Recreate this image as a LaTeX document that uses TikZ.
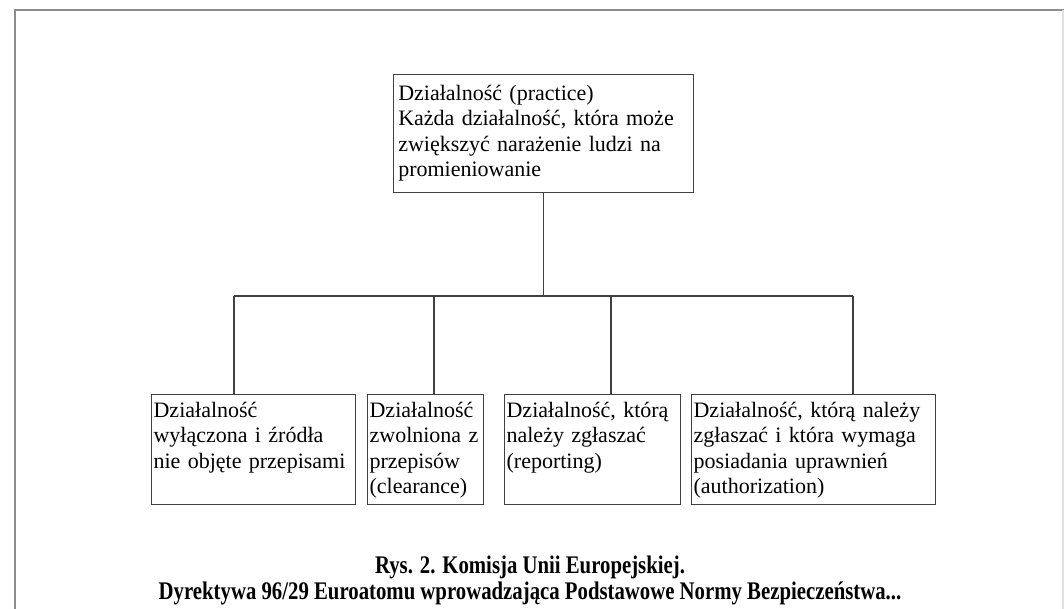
\documentclass[tikz,border=0pt]{standalone}
\usepackage{fontspec}
\setmainfont{Liberation Serif}
\newfontfamily\capfont[FakeStretch=0.82]{Liberation Serif}
\usetikzlibrary{calc}
\hyphenpenalty=10000

\begin{document}
\begin{tikzpicture}[
    x=0.75pt, y=-0.75pt,
    box/.style={draw=black!75, line width=0.9pt, anchor=north west, align=left, inner ysep=0pt, inner xsep=1.5pt, font=\fontsize{16.5}{19}\selectfont},
    leaf/.style={box, text width=#1, text height=17.25pt, text depth=65pt},
    link/.style={draw=black!75, line width=0.9pt},
    frame/.style={draw=black!45, line width=1pt}
]
    \useasboundingbox (0,0) rectangle (1064,609);

    % Page frame
    \draw[frame] (15,609) -- (15,10) -- (1064,10);
    \draw[frame, draw=black!12] (1063,10) -- (1063,609);

    % Practice
    \node[box, text width=218pt, inner xsep=3.5pt, text height=19.5pt, text depth=69pt] (prac) at (393,74)
        {Działalność (practice)\\Każda działalność, która może\\zwiększyć narażenie ludzi na\\promieniowanie};

    % Categories
    \node[leaf=150pt] (excl) at (151,394) {Działalność\\wyłączona i źródła\\nie objęte przepisami};
    \node[leaf=84pt] (clear) at (367,394) {Działalność\\zwolniona z\\przepisów\\(clearance)};
    \node[leaf=129pt] (rep) at (504,394) {Działalność, którą\\należy zgłaszać\\(reporting)};
    \node[leaf=180pt] (auth) at (691,394) {Działalność, którą należy\\zgłaszać i która wymaga\\posiadania uprawnień\\(authorization)};

    % Tree lines
    \coordinate (j1) at (234,296);
    \coordinate (j2) at (434,296);
    \coordinate (j3) at (611,296);
    \coordinate (j4) at (853,296);
    \draw[link] (prac.south) -- (prac.south |- j1);
    \draw[link] (j1) -- (j4);
    \draw[link] (j1) -- (j1 |- excl.north);
    \draw[link] (j2) -- (j2 |- clear.north);
    \draw[link] (j3) -- (j3 |- rep.north);
    \draw[link] (j4) -- (j4 |- auth.north);

    % Caption
    \node[font=\capfont\bfseries\fontsize{19}{19.5}\selectfont, align=center, inner sep=0pt] (cap) at (530,580)
        {Rys. 2. Komisja Unii Europejskiej.\\Dyrektywa 96/29 Euroatomu wprowadzająca Podstawowe Normy Bezpieczeństwa...};
\end{tikzpicture}
\end{document}
